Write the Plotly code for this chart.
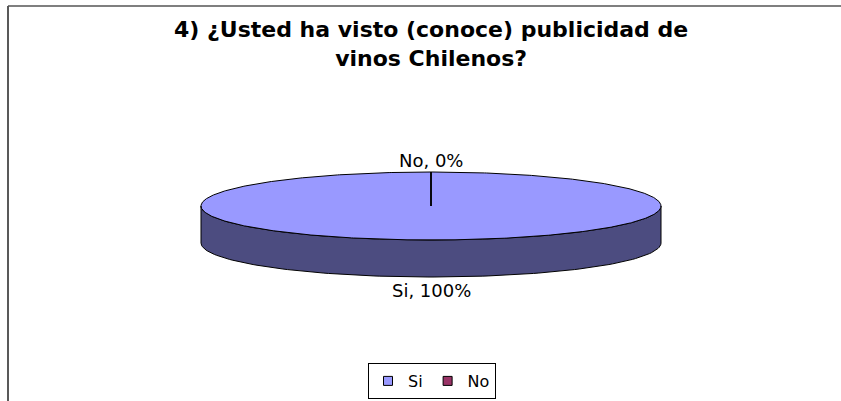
import numpy as np
import plotly.graph_objects as go

# Survey answers
labels = ["Si", "No"]
shares = [100, 0]          # percent of respondents
top_colors = ["#9999FF", "#993366"]
side_colors = ["#4C4C80", "#4D1A33"]

title_lines = ["4) ¿Usted ha visto (conoce) publicidad de", "vinos Chilenos?"]

W, H = 841, 401
# Pie geometry in pixel units
cx, cy = 431, 206          # centre of top face
rx, ry = 230, 34           # radii of top face
depth = 37                 # thickness of the disc


def pt(theta_deg, dy=0.0):
    """Screen point of the rim at an angle measured clockwise from 12 o'clock."""
    t = np.radians(theta_deg)
    return cx + rx * np.sin(t), cy - ry * np.cos(t) + dy


fig = go.Figure()

# Slice angles from the shares, starting at 12 o'clock going clockwise
total = float(sum(shares))
bounds = np.concatenate([[0.0], np.cumsum(shares) / total * 360.0])

# Front wall of each slice (visible part lies between 90 and 270 degrees)
for lab, a0, a1, col in zip(labels, bounds[:-1], bounds[1:], side_colors):
    lo, hi = max(a0, 90.0), min(a1, 270.0)
    if hi <= lo:
        continue
    th = np.linspace(lo, hi, 120)
    xt, yt = pt(th)
    xb, yb = pt(th[::-1], depth)
    fig.add_trace(go.Scatter(
        x=np.concatenate([xt, xb, xt[:1]]), y=np.concatenate([yt, yb, yt[:1]]),
        mode="lines", fill="toself", fillcolor=col,
        line=dict(color="black", width=1), hoverinfo="skip",
        showlegend=False, legendgroup=lab))

# Top face of each slice (a wedge from the centre)
for lab, a0, a1, col in zip(labels, bounds[:-1], bounds[1:], top_colors):
    th = np.linspace(a0, a1, max(2, int((a1 - a0) * 2) + 2))
    xa, ya = pt(th)
    fig.add_trace(go.Scatter(
        x=np.concatenate([[cx], xa, [cx]]), y=np.concatenate([[cy], ya, [cy]]),
        mode="lines", fill="toself", fillcolor=col,
        line=dict(color="black", width=1), hoverinfo="skip",
        showlegend=False, legendgroup=lab))

# Data labels outside each slice at its middle angle
for lab, a0, a1, v in zip(labels, bounds[:-1], bounds[1:], shares):
    mid = (a0 + a1) / 2.0
    front = np.cos(np.radians(mid)) < 0
    x, y = pt(mid, depth if front else 0.0)
    fig.add_annotation(
        x=x, y=y + (13 if front else -12), xref="x", yref="y",
        text=f"{lab}, {v}%", showarrow=False,
        xanchor="center", yanchor="middle",
        font=dict(family="DejaVu Sans", size=18, color="black"))

# Legend entries
for lab, col in zip(labels, top_colors):
    fig.add_trace(go.Scatter(
        x=[None], y=[None], mode="markers", name=lab, legendgroup=lab,
        marker=dict(symbol="square", size=9, color=col,
                    line=dict(color="black", width=1))))

# Chart title
fig.add_annotation(
    x=431, y=44, xref="x", yref="y",
    text="<b>" + "<br>".join(title_lines) + "</b>",
    showarrow=False, xanchor="center", yanchor="middle", align="center",
    font=dict(family="DejaVu Sans", size=22, color="black"))

# Chart area frame (left and top edges)
fig.add_shape(type="line", xref="paper", yref="paper",
              x0=8 / W, x1=8 / W, y0=0, y1=1 - 6 / H,
              line=dict(color="#222222", width=1.5))
fig.add_shape(type="line", xref="paper", yref="paper",
              x0=8 / W, x1=1, y0=1 - 6 / H, y1=1 - 6 / H,
              line=dict(color="#555555", width=1.5))

fig.update_layout(
    width=W, height=H,
    margin=dict(l=0, r=0, t=0, b=0, autoexpand=False),
    paper_bgcolor="white", plot_bgcolor="white",
    xaxis=dict(range=[0, W], visible=False, fixedrange=True),
    yaxis=dict(range=[H, 0], visible=False, fixedrange=True),
    showlegend=True,
    legend=dict(orientation="h", x=432 / W, xanchor="center",
                y=(H - 399) / H, yanchor="bottom", yref="paper",
                bordercolor="black", borderwidth=1, bgcolor="white",
                font=dict(family="DejaVu Sans", size=16, color="black"),
                itemwidth=30, tracegroupgap=0),
)

fig.write_html("out.html")
